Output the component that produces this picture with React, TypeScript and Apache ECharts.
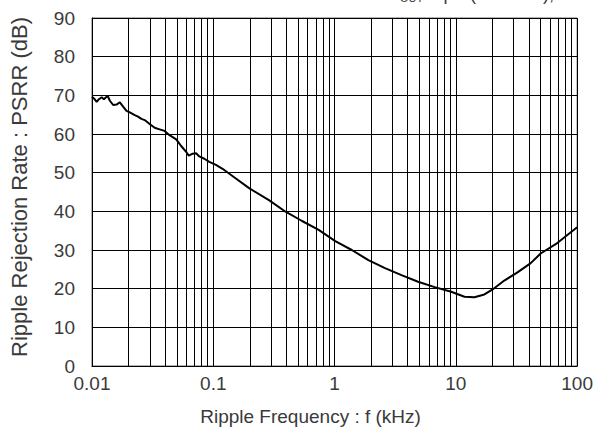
import React, { useEffect, useRef } from "react";
import * as echarts from "echarts";

const freqKHz = [
  0.01, 0.01038, 0.01093, 0.01141, 0.01201, 0.01254, 0.01345, 0.01404, 0.01495, 0.01594,
  0.01696, 0.01805, 0.01925, 0.02049, 0.02252, 0.02396, 0.02556, 0.02719, 0.02988, 0.03284,
  0.03609, 0.03966, 0.04358, 0.04946, 0.05435, 0.05973, 0.06274, 0.06766, 0.07215, 0.07676,
  0.08437, 0.09272, 0.1052, 0.1192, 0.1486, 0.1973, 0.2877, 0.3944, 0.5395, 0.7395,
  1.0132, 1.386, 1.9, 2.604, 3.561, 4.881, 6.69, 9.152, 11.78, 14.23,
  17.19, 20.11, 25.07, 32.23, 41.42, 50.02, 68.56, 100,
];
const psrrDb = [
  69.6, 69.2, 68.3, 69.0, 69.5, 69.0, 69.9, 68.6, 67.5, 67.6,
  68.2, 67.1, 66.0, 65.6, 64.9, 64.5, 63.9, 63.6, 62.6, 61.6,
  61.2, 60.8, 59.7, 58.6, 56.9, 55.4, 54.4, 54.9, 55.0, 54.2,
  53.6, 52.8, 52.0, 51.0, 48.8, 46.0, 42.9, 39.9, 37.5, 35.2,
  32.3, 30.0, 27.4, 25.3, 23.5, 21.8, 20.4, 19.2, 17.9, 17.8,
  18.5, 19.8, 22.1, 24.2, 26.6, 29.1, 31.8, 35.9,
];
const minorGridFreqs = [
  0.02, 0.03, 0.04, 0.05, 0.06, 0.07, 0.08, 0.09,
  0.2, 0.3, 0.4, 0.5, 0.6, 0.7, 0.8, 0.9,
  2, 3, 4, 5, 6, 7, 8, 9,
  20, 30, 40, 50, 60, 70, 80, 90,
];
const xTickLabels: Record<string, string> = {
  "0.01": "0.01",
  "0.1": "0.1",
  "1": "1",
  "10": "10",
  "100": "100",
};

const FONT = "'Liberation Sans', Arial, sans-serif";
const TEXT = "#3a3a3a";

export default function App() {
  const ref = useRef<HTMLDivElement>(null);
  useEffect(() => {
    if (!ref.current) return;
    const chart = echarts.init(ref.current, undefined, { renderer: "svg" });
    chart.setOption({
      animation: false,
      backgroundColor: "#fff",
      grid: {
        left: 92,
        right: 16,
        top: 18,
        bottom: 78,
        show: true,
        borderColor: "#666",
        borderWidth: 1,
      },
      graphic: [
        { type: "text", left: 388, top: -15, style: { text: "C", font: `18px ${FONT}`, fill: TEXT } },
        { type: "text", left: 400, top: -8, style: { text: "OUT", font: `11px ${FONT}`, fill: TEXT } },
        { type: "text", left: 423, top: -15, style: { text: "=1μF (Ceramic), Ta=25°C", font: `18px ${FONT}`, fill: TEXT } },
      ],
      xAxis: {
        type: "log",
        logBase: 10,
        min: 0.01,
        max: 100,
        name: "Ripple Frequency : f (kHz)",
        nameLocation: "middle",
        nameGap: 41,
        nameTextStyle: { fontSize: 19, fontFamily: FONT, color: TEXT, padding: [0, 48, 0, 0] },
        axisLine: { show: true, lineStyle: { color: "#000", width: 1 } },
        axisTick: { show: false },
        axisLabel: {
          fontSize: 19,
          fontFamily: FONT,
          color: TEXT,
          margin: 8,
          formatter: (v: number) => xTickLabels[String(+v.toPrecision(3))] ?? String(+v.toPrecision(3)),
        },
        splitLine: { show: true, lineStyle: { color: "#000", width: 1 } },
      },
      yAxis: {
        type: "value",
        min: 0,
        max: 90,
        interval: 10,
        name: "Ripple Rejection Rate : PSRR (dB)",
        nameLocation: "middle",
        nameGap: 62,
        nameTextStyle: { fontSize: 22, fontFamily: FONT, color: TEXT, padding: [0, 0, 0, 10] },
        axisLine: { show: true, lineStyle: { color: "#000", width: 1 } },
        axisTick: { show: false },
        axisLabel: { fontSize: 19, fontFamily: FONT, color: TEXT, margin: 17 },
        splitLine: { show: true, lineStyle: { color: "#000", width: 1 } },
      },
      series: [
        {
          type: "line",
          data: freqKHz.map((f, i) => [f, psrrDb[i]]),
          showSymbol: false,
          symbol: "none",
          lineStyle: { color: "#000", width: 2 },
          z: 5,
          markLine: {
            silent: true,
            symbol: "none",
            label: { show: false },
            lineStyle: { color: "#000", width: 1, type: "solid" },
            data: minorGridFreqs.map((f) => ({ xAxis: f })),
            z: 1,
          },
        },
      ],
    });
    return () => chart.dispose();
  }, []);
  return (
    <div
      ref={ref}
      style={{ position: "absolute", left: 0, top: 0, width: 596, height: 444 }}
    />
  );
}
